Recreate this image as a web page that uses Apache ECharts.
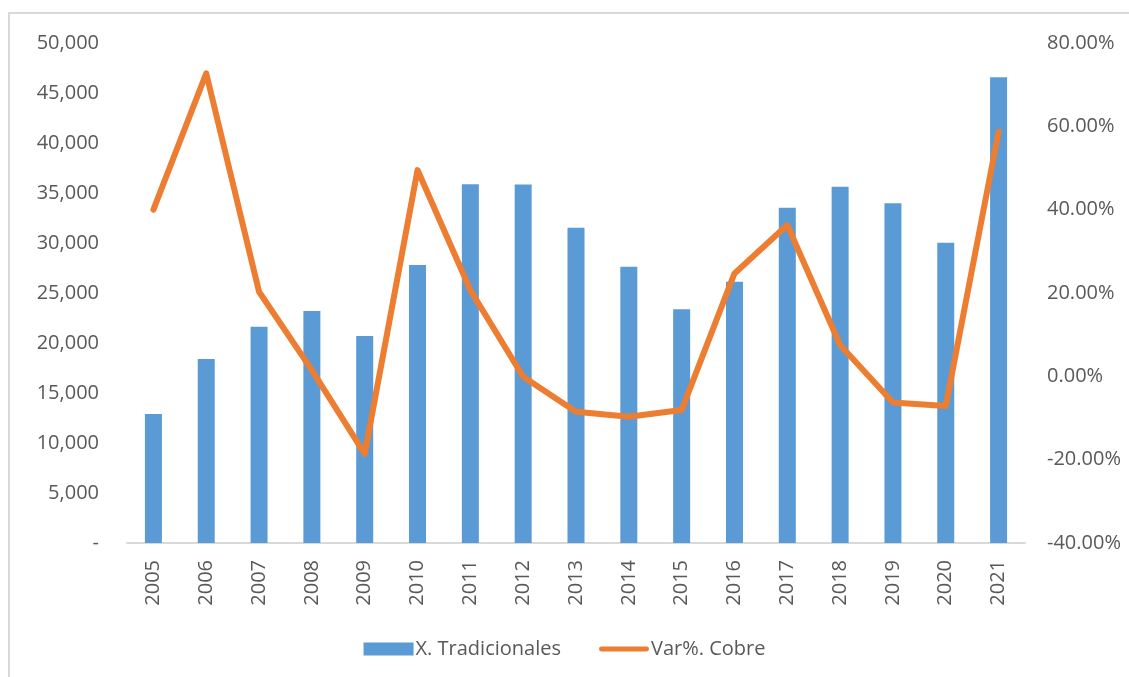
<!DOCTYPE html>
<html>
<head>
<meta charset="utf-8">
<script src="https://cdn.jsdelivr.net/npm/echarts@6/dist/echarts.min.js"></script>
<style>
html,body{margin:0;padding:0;background:#fff;}
#marco{
  position:absolute;left:8px;top:12px;width:1121px;height:665px;
  border-left:2px solid #d9d9d9;
  border-top:2px solid #d9d9d9;
  box-sizing:border-box;
}
#grafico{position:absolute;left:0;top:0;width:1129px;height:677px;}
</style>
</head>
<body>
<div id="marco"></div>
<div id="grafico"></div>
<script>
// años
var anios = ['2005','2006','2007','2008','2009','2010','2011','2012','2013','2014','2015','2016','2017','2018','2019','2020','2021'];
// X. Tradicionales
var tradicionales = [12900,18400,21630,23200,20700,27800,35870,35850,31530,27630,23370,26130,33530,35630,33970,30030,46570];
// Var%. Cobre (%)
var varCobre = [40.0,72.7,20.3,1.5,-18.6,49.5,20.7,-0.1,-8.5,-9.7,-8.1,24.7,36.3,7.5,-6.3,-7.1,58.7];

var fuente = 'Open Sans';
var gris = '#595959';

var myChart = echarts.init(document.getElementById('grafico'));
var option = {
  animation:false,
  color:['#5b9bd5','#ed7d31'],
  textStyle:{fontFamily:fuente},
  legend:{//leyenda abajo
    bottom:13,
    left:'center',
    itemGap:38,
    itemWidth:50,
    itemHeight:13,
    textStyle:{color:gris,fontSize:20,fontFamily:fuente,padding:[0,0,0,-3]},
    data:[
      {name:'X. Tradicionales',icon:'rect',itemStyle:{color:'#5b9bd5'}},
      {name:'Var%. Cobre',icon:'path://M2,4 L58,4 A3,3 0 0 1 58,10 L2,10 A3,3 0 0 1 2,4 Z',itemStyle:{color:'#ed7d31'}}
    ]
  },
  grid:{left:127,right:104,top:43,bottom:134},
  xAxis:{
    type:'category',
    data:anios,
    axisTick:{show:false},
    axisLine:{lineStyle:{color:'#d9d9d9',width:2}},
    axisLabel:{rotate:90,color:gris,fontSize:20,margin:17,fontFamily:fuente}
  },
  yAxis:[
    {
      type:'value',min:0,max:50000,interval:5000,
      splitLine:{show:false},
      axisLine:{show:false},axisTick:{show:false},
      axisLabel:{
        color:gris,fontSize:20,margin:28,fontFamily:fuente,
        formatter:function(v){ return v===0 ? '-' : v.toLocaleString('en-US'); }
      }
    },
    {
      type:'value',min:-40,max:80,interval:20,
      splitLine:{show:false},
      axisLine:{show:false},axisTick:{show:false},
      axisLabel:{
        color:gris,fontSize:20,margin:22,fontFamily:fuente,
        formatter:function(v){ return v.toFixed(2)+'%'; }
      }
    }
  ],
  series:[
    {
      name:'X. Tradicionales',
      type:'bar',
      barWidth:17,
      itemStyle:{color:'#5b9bd5'},
      data:tradicionales
    },
    {
      name:'Var%. Cobre',
      type:'line',
      yAxisIndex:1,
      showSymbol:false,
      symbol:'none',
      itemStyle:{color:'#ed7d31'},
      lineStyle:{color:'#ed7d31',width:6,cap:'round',join:'round'},
      data:varCobre
    }
  ]
};
myChart.setOption(option);
</script>
</body>
</html>
